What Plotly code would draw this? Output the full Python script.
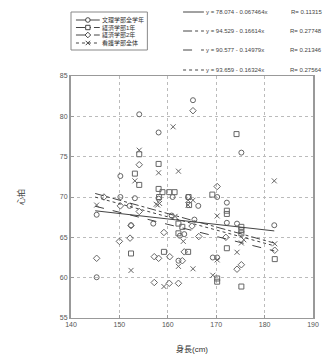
import plotly.graph_objects as go

# ---------------- data ----------------
series_names = ["文理学部全学年", "経済学部1年", "経済学部2年", "看護学部全体"]

s1_x = [154.1, 158.1, 165.2, 175.2, 150.2, 161.0, 153.2, 158.1, 150.2, 145.3, 152.4, 157.0, 170.2, 172.2,
        164.2, 166.3, 182.0, 172.2, 163.4, 162.2, 169.3, 170.2, 145.3, 152.1, 165.5, 174.3, 162.5, 160.8]
s1_y = [80.25, 78.0, 82.0, 75.5, 72.6, 70.0, 69.85, 69.8, 70.0, 67.8, 66.5, 66.7, 70.0, 69.3,
        70.0, 68.9, 66.5, 66.8, 65.4, 62.1, 62.5, 62.5, 60.05, 68.9, 67.2, 66.7, 65.2, 67.7]

s2_x = [154.1, 158.1, 153.2, 154.1, 158.1, 158.9, 160.3, 161.4, 169.2, 172.2, 172.2, 175.2, 174.2, 162.2,
        162.2, 175.2, 175.2, 152.4, 159.2, 172.2, 182.1, 170.2, 170.2, 175.2, 164.2, 164.3, 164.4, 163.0, 158.2]
s2_y = [75.3, 74.1, 72.9, 71.5, 71.0, 70.6, 70.6, 70.6, 70.3, 68.3, 67.9, 66.3, 77.8, 66.7,
        65.5, 65.9, 65.5, 63.0, 63.2, 63.65, 62.3, 59.9, 59.5, 58.9, 63.2, 70.0, 69.0, 66.3, 70.0]

s3_x = [154.1, 146.8, 165.2, 170.2, 152.4, 159.2, 166.4, 150.0, 152.2, 157.2, 158.1, 160.4, 163.0, 175.2,
        174.3, 182.1, 145.3, 157.2, 160.3, 162.2, 154.1, 150.2, 165.0, 163.4, 172.0]
s3_y = [74.0, 70.0, 80.7, 71.3, 66.45, 65.6, 65.1, 64.5, 64.9, 62.6, 62.4, 62.6, 62.1, 61.6,
        61.05, 63.4, 62.4, 59.4, 59.3, 59.3, 68.2, 68.9, 66.4, 63.2, 65.0]

s4_x = [161.1, 154.1, 158.1, 162.2, 153.2, 145.3, 157.6, 158.3, 182.0, 164.2, 165.2, 164.2, 170.2, 163.2,
        175.2, 162.2, 165.2, 170.2, 174.3, 182.1, 152.4, 159.2, 169.3, 175.7, 157.9, 161.5]
s4_y = [78.7, 75.8, 73.0, 73.2, 72.0, 69.0, 69.1, 69.2, 72.0, 69.6, 69.6, 69.0, 67.65, 64.5,
        64.3, 61.4, 61.1, 62.2, 63.15, 64.2, 60.9, 58.9, 60.3, 64.7, 69.0, 67.6]

# regression results (intercept, slope, R) as printed on the chart
fit_a = [78.074, 94.529, 90.577, 93.659]
fit_b = [-0.067464, -0.16614, -0.14979, -0.16324]
fit_r = [0.11315, 0.27748, 0.21346, 0.27564]
fit_x_range = [145, 182]

x_ticks = [140, 150, 160, 170, 180, 190]
y_ticks = [55, 60, 65, 70, 75, 80, 85]

# ---------------- style ----------------
symbols = ["circle-open", "square-open", "diamond-open", "x-thin-open"]
dashes = ["solid", "dashdot", "dash", "dot"]
grey = "#666666"
dark = "#444444"
font_family = "Liberation Sans, Noto Sans CJK JP"

L, R, T, B, W, H = 71, 16, 76, 46, 331, 364
PW, PH = W - L - R, H - T - B


def px(xp):
    return (xp - L) / PW


def py(yp):
    return (H - B - yp) / PH


xs = [s1_x, s2_x, s3_x, s4_x]
ys = [s1_y, s2_y, s3_y, s4_y]

fig = go.Figure()

for i in range(4):
    fig.add_trace(go.Scatter(
        x=xs[i], y=ys[i], mode="markers", showlegend=False, name=series_names[i],
        marker=dict(symbol=symbols[i], size=5, color=grey, line=dict(width=1, color=grey)),
    ))

for i in range(4):
    fx = fit_x_range
    fy = [fit_a[i] + fit_b[i] * v for v in fx]
    fig.add_trace(go.Scatter(
        x=fx, y=fy, mode="lines", showlegend=False,
        line=dict(color=dark, width=1, dash=dashes[i]),
    ))

shapes = []
annotations = []

# ---- hand-made compact legend (top-left, above plot) ----
shapes.append(dict(type="rect", xref="paper", yref="paper", x0=px(71), x1=px(148), y0=py(12), y1=py(50),
                   line=dict(color="#888888", width=1), fillcolor="white", layer="above"))
leg_rows = [20, 27.5, 35, 43]
key_paths = [
    None,
    "M-2.2,-2.2 L2.2,-2.2 L2.2,2.2 L-2.2,2.2 Z",
    "M0,-2.8 L2.8,0 L0,2.8 L-2.8,0 Z",
    "M-2.2,-2.2 L2.2,2.2 M-2.2,2.2 L2.2,-2.2",
]
for i, r in enumerate(leg_rows):
    shapes.append(dict(type="line", xref="paper", yref="paper", x0=px(76), x1=px(100),
                       y0=py(r), y1=py(r), line=dict(color=dark, width=1, dash=dashes[i])))
    if i == 0:
        shapes.append(dict(type="circle", xref="paper", yref="paper", xsizemode="pixel", ysizemode="pixel",
                           xanchor=px(88), yanchor=py(r), x0=-2.3, x1=2.3, y0=-2.3, y1=2.3,
                           line=dict(color=dark, width=1), fillcolor="white"))
    else:
        shapes.append(dict(type="path", xref="paper", yref="paper", xsizemode="pixel", ysizemode="pixel",
                           xanchor=px(88), yanchor=py(r), path=key_paths[i],
                           line=dict(color=dark, width=1), fillcolor="white" if i < 3 else None))
    annotations.append(dict(xref="paper", yref="paper", x=px(101), y=py(r), xanchor="left", yanchor="middle",
                            text=series_names[i], showarrow=False, borderpad=0,
                            font=dict(size=6, color="#333333", family=font_family)))

# ---- regression equations (top-right) ----
eq_rows = [12, 31, 50, 70]
for i, r in enumerate(eq_rows):
    shapes.append(dict(type="line", xref="paper", yref="paper", x0=px(184), x1=px(205),
                       y0=py(r), y1=py(r), line=dict(color=dark, width=1, dash=dashes[i])))
    annotations.append(dict(xref="paper", yref="paper", x=px(206), y=py(r), xanchor="left", yanchor="middle",
                            text=f"y = {fit_a[i]:.3f} - {abs(fit_b[i]):g}x", showarrow=False, borderpad=0,
                            font=dict(size=6, color=dark, family=font_family)))
    annotations.append(dict(xref="paper", yref="paper", x=px(325), y=py(r), xanchor="right", yanchor="middle",
                            text=f"R= {fit_r[i]:.5f}", showarrow=False, borderpad=0,
                            font=dict(size=6, color=dark, family=font_family)))

fig.update_layout(
    width=W, height=H,
    margin=dict(l=L, r=R, t=T, b=B),
    paper_bgcolor="white", plot_bgcolor="white",
    font=dict(family=font_family, size=7, color=dark),
    shapes=shapes, annotations=annotations, showlegend=False,
    xaxis=dict(range=[140, 190], tickvals=x_ticks, showgrid=True, gridcolor="#bbbbbb", griddash="dot",
               gridwidth=1, showline=True, linecolor="#999999", linewidth=1, mirror=True, zeroline=False,
               ticks="inside", ticklen=3, tickcolor="#999999", tickfont=dict(size=7, color="#555555"),
               title=dict(text="身長(cm)", font=dict(size=8, color="#333333"), standoff=18)),
    yaxis=dict(range=[55, 85], tickvals=y_ticks, showgrid=True, gridcolor="#bbbbbb", griddash="dot",
               gridwidth=1, showline=True, linecolor="#999999", linewidth=2, mirror=True, zeroline=False,
               ticks="inside", ticklen=3, tickcolor="#999999", tickfont=dict(size=7, color="#555555"),
               title=dict(text="心拍", font=dict(size=8, color="#333333"), standoff=34)),
)

fig.write_html(
    "out.html",
    config={"displayModeBar": False, "staticPlot": True},
    post_script="document.body.style.margin='0';document.body.style.overflow='hidden';",
)
